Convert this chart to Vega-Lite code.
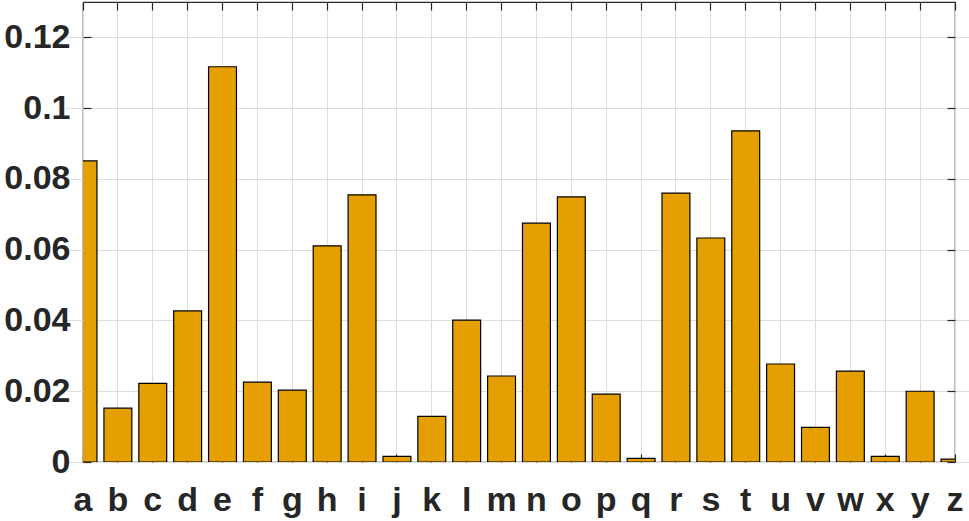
{
  "$schema": "https://vega.github.io/schema/vega-lite/v6.json",
  "description": "Relative frequency of letters, MATLAB-style bar chart.",
  "width": 872,
  "height": 460,
  "autosize": "none",
  "padding": {"left": 83, "top": 2, "right": 14, "bottom": 59},
  "background": "white",
  "config": {
    "view": {"stroke": "#262626", "strokeWidth": 1.2},
    "axis": {
      "labelFont": "Liberation Sans",
      "labelFontWeight": "bold",
      "labelColor": "#262626",
      "tickColor": "#262626",
      "tickWidth": 1.2,
      "domain": false,
      "title": null
    }
  },
  "data": {
    "values": [
      {"letter": "a", "freq": 0.0851},
      {"letter": "b", "freq": 0.0152},
      {"letter": "c", "freq": 0.0222},
      {"letter": "d", "freq": 0.0427},
      {"letter": "e", "freq": 0.1117},
      {"letter": "f", "freq": 0.0226},
      {"letter": "g", "freq": 0.0203},
      {"letter": "h", "freq": 0.0611},
      {"letter": "i", "freq": 0.0755},
      {"letter": "j", "freq": 0.0016},
      {"letter": "k", "freq": 0.0129},
      {"letter": "l", "freq": 0.0401},
      {"letter": "m", "freq": 0.0243},
      {"letter": "n", "freq": 0.0675},
      {"letter": "o", "freq": 0.0749},
      {"letter": "p", "freq": 0.0192},
      {"letter": "q", "freq": 0.0010},
      {"letter": "r", "freq": 0.0760},
      {"letter": "s", "freq": 0.0633},
      {"letter": "t", "freq": 0.0936},
      {"letter": "u", "freq": 0.0277},
      {"letter": "v", "freq": 0.0098},
      {"letter": "w", "freq": 0.0257},
      {"letter": "x", "freq": 0.0016},
      {"letter": "y", "freq": 0.0200},
      {"letter": "z", "freq": 0.0008}
    ]
  },
  "layer": [
    {
      "mark": {"type": "bar", "color": "#E69F00", "stroke": "black", "strokeWidth": 1.2, "clip": true},
      "encoding": {
        "x": {
          "field": "letter",
          "type": "nominal",
          "sort": null,
          "scale": {"range": [-17.44, 889.44], "paddingInner": 0.2, "paddingOuter": 0.1},
          "axis": {
            "orient": "bottom",
            "labelAngle": 0,
            "labelFontSize": 34,
            "labelPadding": 29,
            "tickSize": -8,
            "bandPosition": 0.5,
            "grid": true,
            "gridColor": "#dedede",
            "gridWidth": 1
          }
        },
        "y": {
          "field": "freq",
          "type": "quantitative",
          "scale": {"domain": [0, 0.13], "nice": false},
          "axis": {
            "orient": "left",
            "values": [0, 0.02, 0.04, 0.06, 0.08, 0.1, 0.12],
            "format": "~g",
            "labelFontSize": 34,
            "labelPadding": 21,
            "tickSize": -8,
            "grid": true,
            "gridColor": "#dedede",
            "gridWidth": 1
          }
        }
      }
    },
    {
      "mark": {"type": "bar", "opacity": 0, "clip": true},
      "encoding": {
        "x": {
          "field": "letter",
          "type": "nominal",
          "sort": null,
          "axis": {"orient": "top", "labels": false, "tickSize": -8, "bandPosition": 0.5, "grid": false}
        },
        "y": {
          "field": "freq",
          "type": "quantitative",
          "axis": {"orient": "right", "labels": false, "values": [0, 0.02, 0.04, 0.06, 0.08, 0.1, 0.12], "tickSize": -8, "grid": false}
        }
      }
    }
  ],
  "resolve": {"axis": {"x": "independent", "y": "independent"}}
}
